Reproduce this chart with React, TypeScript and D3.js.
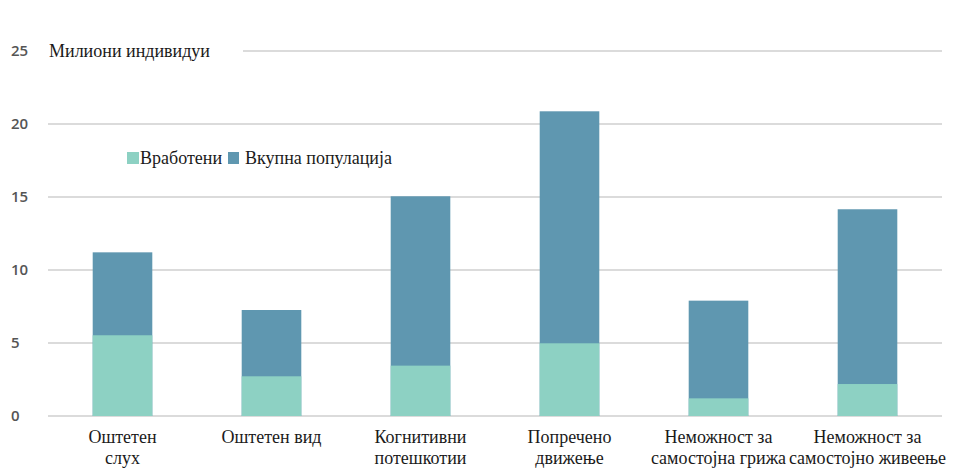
import React from "react";
import * as d3 from "d3";

const categories: string[][] = [
  ["Оштетен", "слух"],
  ["Оштетен вид"],
  ["Когнитивни", "потешкотии"],
  ["Попречено", "движење"],
  ["Неможност за", "самостојна грижа"],
  ["Неможност за", "самостојно живеење"],
];
const employed = [5.53, 2.72, 3.45, 4.98, 1.21, 2.19];
const totalPopulation = [11.21, 7.26, 15.05, 20.87, 7.9, 14.16];
const yTicks = [0, 5, 10, 15, 20, 25];
const seriesNames = ["Вработени", "Вкупна популација"];
const yTitle = "Милиони индивидуи";

const W = 956;
const H = 468;
const COL_EMP = "#8dd1c3";
const COL_TOT = "#5f97b0";
const SERIF = "Liberation Serif";
const SANS = "Open Sans";
const FS = 18;

function SText(props: { x: number; y: number; anchor?: string; children: React.ReactNode }) {
  const { x, y, anchor = "start", children } = props;
  return (
    <text x={x} y={y} textAnchor={anchor} style={{ fontFamily: SERIF, fontSize: FS }} fill="#1a1a1a">
      {children}
    </text>
  );
}

export default function App() {
  const keys = categories.map((c) => c.join(" "));
  const x = d3.scaleBand<string>().domain(keys).range([48, 942]).paddingInner(0.6).paddingOuter(0.3);
  const y = d3.scaleLinear().domain([0, 25]).range([416, 51]);

  return (
    <svg width={W} height={H} style={{ position: "absolute", left: 0, top: 0, background: "#fff" }}>
      {yTicks.map((t) => (
        <g key={t}>
          <line x1={t === 25 ? 243 : 48} x2={942} y1={y(t)} y2={y(t)} stroke="#cfcfcf" strokeWidth={1.5} />
          <text x={11} y={y(t)} dy="0.36em" style={{ fontFamily: SANS, fontWeight: 600, fontSize: 15 }} fill="#555">
            {t}
          </text>
        </g>
      ))}
      <SText x={49} y={y(25) + 6}>{yTitle}</SText>
      {keys.map((k, i) => {
        const cx = (x(k) as number) + x.bandwidth() / 2;
        return (
          <g key={k}>
            <rect x={x(k)} width={x.bandwidth()} y={y(totalPopulation[i])} height={y(0) - y(totalPopulation[i])} fill={COL_TOT} />
            <rect x={x(k)} width={x.bandwidth()} y={y(employed[i])} height={y(0) - y(employed[i])} fill={COL_EMP} />
            {categories[i].map((line, j) => (
              <SText key={j} x={cx} y={443 + j * 21} anchor="middle">
                {line}
              </SText>
            ))}
          </g>
        );
      })}
      <g>
        <rect x={127} y={152} width={12} height={12} fill={COL_EMP} />
        <SText x={140} y={164}>{seriesNames[0]}</SText>
        <rect x={228} y={152} width={11} height={12} fill={COL_TOT} />
        <SText x={245} y={164}>{seriesNames[1]}</SText>
      </g>
    </svg>
  );
}
